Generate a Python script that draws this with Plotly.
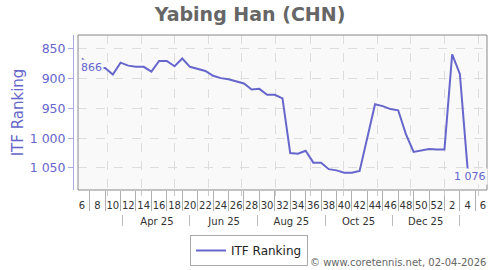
import pandas as pd
import plotly.graph_objects as go

# ---- data ----
week_start = "2025-02-06"  # Thursday of ISO week 6, 2025
ranking = [866, 879, 882, 882, 893, 873, 878, 880, 880, 888, 870, 870, 879, 866,
           880, 883, 887, 895, 899, 901, 905, 908, 918, 917, 927, 927, 933, 1025,
           1026, 1021, 1041, 1041, 1052, 1054, 1058, 1058, 1055, 1000, 943, 946,
           951, 953, 993, 1023, 1021, 1018, 1019, 1019, 859, 892, 1051, 1066, 1076]
week_labels = ["6", "8", "10", "12", "14", "16", "18", "20", "22", "24", "26", "28",
               "30", "32", "34", "36", "38", "40", "42", "44", "46", "48", "50", "52",
               "2", "4", "6"]
month_starts = ["2025-03-01", "2025-04-01", "2025-05-01", "2025-06-01", "2025-07-01",
                "2025-08-01", "2025-09-01", "2025-10-01", "2025-11-01", "2025-12-01",
                "2026-01-01", "2026-02-01"]
month_label_dates = ["2025-04-15", "2025-06-15", "2025-08-15", "2025-10-15", "2025-12-15"]
month_labels = ["Apr 25", "Jun 25", "Aug 25", "Oct 25", "Dec 25"]
month_sep_dates = ["2025-03-15", "2025-05-15", "2025-07-15", "2025-09-15",
                   "2025-11-15", "2026-01-15"]
y_ticks = [850, 900, 950, 1000, 1050]
y_tick_labels = ["850", "900", "950", "1 000", "1 050"]

dates = pd.date_range(week_start, periods=len(ranking), freq="7D")

LINE = "#6666cc"
FONT = "DejaVu Sans"
x_range = ["2025-02-02 09:00", "2026-02-08 15:00"]
PAPER_H = 235.0

fig = go.Figure()
# helper (invisible) traces so the overlaid date axes get drawn
for ax in ("x2", "x3"):
    fig.add_trace(go.Scatter(x=dates, y=ranking, mode="lines", xaxis=ax, yaxis="y",
                             line=dict(color="rgba(0,0,0,0)", width=0),
                             showlegend=False, hoverinfo="skip"))
fig.add_trace(go.Scatter(x=dates, y=ranking, mode="lines", name="ITF Ranking",
                         line=dict(color=LINE, width=2), xaxis="x", yaxis="y",
                         hoverinfo="skip"))

# first / last value labels
fig.add_annotation(x=dates[0], y=ranking[0], text=f"{ranking[0]}", showarrow=False,
                   xshift=10, yshift=-9, bgcolor="#f9f9f9",
                   font=dict(family=FONT, size=11, color=LINE))
fig.add_annotation(x=dates[-1], y=ranking[-1], text=f"{ranking[-1] // 1000} {ranking[-1] % 1000:03d}",
                   showarrow=False, xshift=-13, yshift=7, bgcolor="#f9f9f9",
                   font=dict(family=FONT, size=11, color=LINE))

# footer
fig.add_annotation(xref="paper", yref="paper", x=1.003, y=8 / PAPER_H, xanchor="right",
                   yanchor="middle", showarrow=False,
                   text="© www.coretennis.net, 02-04-2026",
                   font=dict(family=FONT, size=10, color="#666666"))

# frame of plot area
fig.add_shape(type="rect", xref="x domain", yref="y domain", x0=0, x1=1, y0=0, y1=1,
              line=dict(color="#888888", width=1), layer="above")

xdom = [5 / 414, 1]
fig.update_layout(
    width=500, height=270,
    margin=dict(l=73, r=13, t=35, b=0, autoexpand=False),
    paper_bgcolor="white", plot_bgcolor="#f9f9f9",
    font=dict(family=FONT, color="#333333"),
    title=dict(text="<b>Yabing Han (CHN)</b>", x=0.5, xanchor="center",
               xref="container", y=1 - 14 / 270, yanchor="middle", yref="container",
               font=dict(family=FONT, size=19, color="#666666")),
    showlegend=True,
    legend=dict(orientation="h", xref="paper", yref="paper", x=(249 - 73) / 414,
                xanchor="center", y=(270 - 235) / PAPER_H, yanchor="top",
                itemwidth=30,
                bordercolor="#aaaaaa", borderwidth=1, bgcolor="white",
                font=dict(family=FONT, size=12, color="#222222")),
    xaxis=dict(type="date", range=x_range, domain=xdom, anchor="y",
               tickmode="array", tickvals=list(dates[::2]), ticktext=week_labels,
               ticks="", showgrid=False, showline=False, zeroline=False,
               tickfont=dict(family=FONT, size=10, color="#333333"),
               ticklabelstandoff=8,
               minor=dict(tickmode="array", tickvals=list(dates[1::2]), ticks="outside",
                          ticklen=20, tickcolor="#b0b0b0", tickwidth=1, showgrid=False)),
    xaxis2=dict(type="date", range=x_range, overlaying="x", anchor="y", domain=xdom,
                tickmode="array", tickvals=month_starts, showticklabels=False,
                ticks="outside", ticklen=5, tickcolor="#cccccc",
                showgrid=True, gridcolor="#dddddd", griddash="dash", gridwidth=1,
                showline=False, zeroline=False),
    xaxis3=dict(type="date", range=x_range, overlaying="x", anchor="free",
                position=(270 - 214) / PAPER_H, domain=xdom,
                tickmode="array", tickvals=month_label_dates, ticktext=month_labels,
                ticks="", showgrid=False, showline=False, zeroline=False,
                tickfont=dict(family=FONT, size=10, color="#333333"),
                ticklabelstandoff=0,
                minor=dict(tickmode="array", tickvals=month_sep_dates, ticks="outside",
                           ticklen=11, tickcolor="#bbbbbb", tickwidth=1, showgrid=False)),
    yaxis=dict(range=[1087, 826.5], domain=[(270 - 190) / PAPER_H, 1], anchor="free",
               position=0, tickmode="array", tickvals=y_ticks, ticktext=y_tick_labels,
               ticks="outside", ticklen=5, tickcolor="#aaaadd",
               showline=True, linecolor="#aaaadd", linewidth=1,
               showgrid=True, gridcolor="#dddddd", griddash="dash", zeroline=False,
               tickfont=dict(family=FONT, size=12.5, color="#6666cc"),
               title=dict(text="ITF Ranking", standoff=1,
                          font=dict(family=FONT, size=15, color="#6666cc"))),
)

fig.write_html("out.html")
